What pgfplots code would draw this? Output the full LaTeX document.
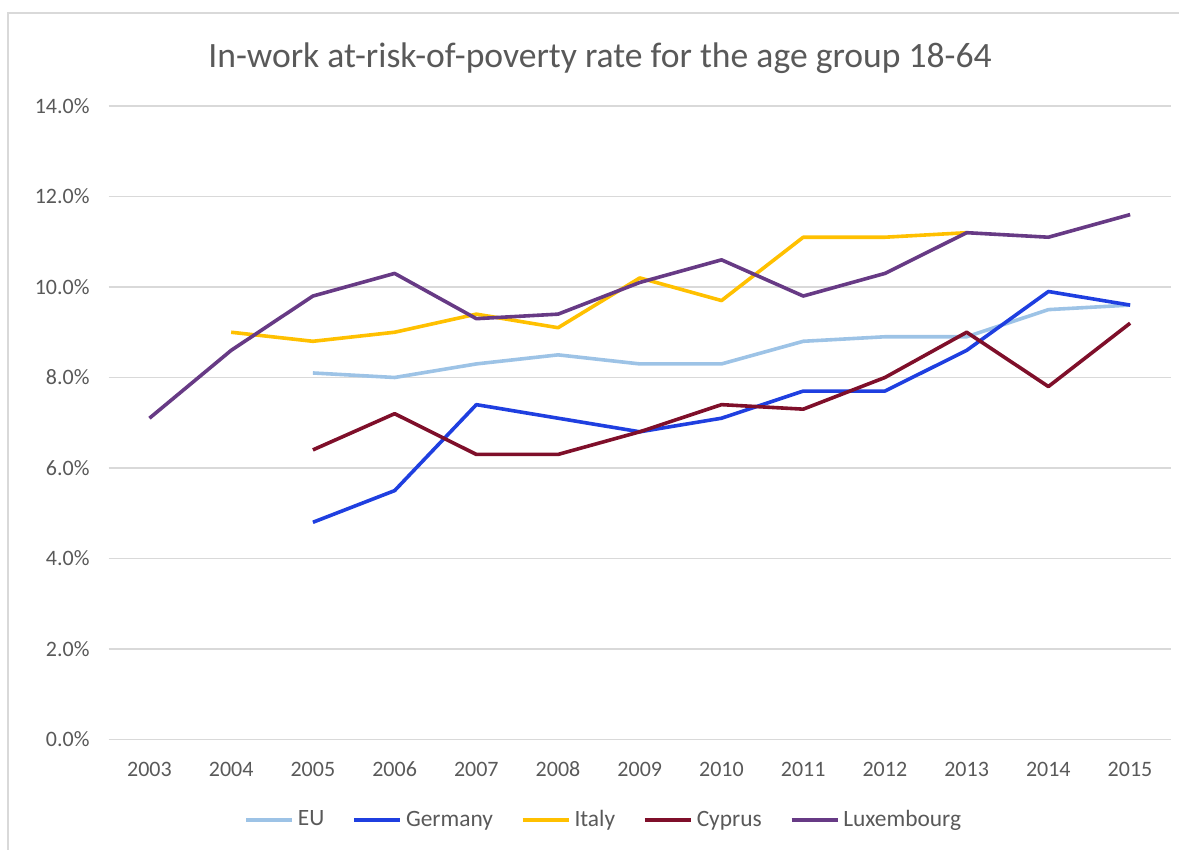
\documentclass[border=0pt]{standalone}
\usepackage{pgfplots}
\pgfplotsset{compat=1.18}
\usepackage{fontspec}
\setmainfont{Carlito}
\definecolor{txt}{HTML}{595959}
\definecolor{gridc}{HTML}{D9D9D9}
\definecolor{cEU}{HTML}{9DC3E6}
\definecolor{cDE}{HTML}{1F3FE0}
\definecolor{cIT}{HTML}{FFC000}
\definecolor{cCY}{HTML}{7F0F2A}
\definecolor{cLU}{HTML}{673A85}
\begin{document}
\begin{tikzpicture}[x=1pt,y=1pt]
\path[use as bounding box] (0,0) rectangle (589.5,425);
\draw[gridc,line width=0.8pt] (4,0) -- (4,418.5) -- (589.5,418.5);
\node[text=txt,font=\fontsize{17.8}{21}\selectfont] at (300,396) {In-work at-risk-of-poverty rate for the age group 18-64};
\begin{axis}[
  at={(54.3pt,55.25pt)}, anchor=south west,
  scale only axis, width=531.2pt, height=316.75pt,
  xmin=2002.5, xmax=2015.5, ymin=0, ymax=14,
  axis line style={draw=none},
  tick style={draw=none},
  /pgf/number format/assume math mode=true,
  xtick={2003,...,2015},
  xticklabel style={/pgf/number format/1000 sep={}, text=txt, font=\fontsize{11}{13}\selectfont, text height=8pt, text depth=1pt, yshift=-7pt},
  ytick={0,2,...,14},
  yticklabels={0.0\%,2.0\%,4.0\%,6.0\%,8.0\%,10.0\%,12.0\%,14.0\%},
  yticklabel style={text=txt, font=\fontsize{11}{13}\selectfont, xshift=-6pt},
  ymajorgrids=true, xmajorgrids=false,
  major grid style={draw=gridc, line width=0.8pt},
  legend columns=5,
  legend style={at={(0.467,-0.127)}, anchor=center, draw=none, fill=none,
    font=\fontsize{11.7}{14}\selectfont, text=txt,
    /tikz/every even column/.append style={column sep=12pt}},
  legend image code/.code={\draw[#1,line width=1.8pt] (0pt,0pt) -- (23pt,0pt);},
  every axis plot/.append style={line width=1.8pt, line join=round, mark=none},
]
\addplot[cEU] coordinates {(2005,8.1)(2006,8.0)(2007,8.3)(2008,8.5)(2009,8.3)(2010,8.3)(2011,8.8)(2012,8.9)(2013,8.9)(2014,9.5)(2015,9.6)};
\addlegendentry{EU}
\addplot[cDE] coordinates {(2005,4.8)(2006,5.5)(2007,7.4)(2008,7.1)(2009,6.8)(2010,7.1)(2011,7.7)(2012,7.7)(2013,8.6)(2014,9.9)(2015,9.6)};
\addlegendentry{Germany}
\addplot[cIT] coordinates {(2004,9.0)(2005,8.8)(2006,9.0)(2007,9.4)(2008,9.1)(2009,10.2)(2010,9.7)(2011,11.1)(2012,11.1)(2013,11.2)};
\addlegendentry{Italy}
\addplot[cCY] coordinates {(2005,6.4)(2006,7.2)(2007,6.3)(2008,6.3)(2009,6.8)(2010,7.4)(2011,7.3)(2012,8.0)(2013,9.0)(2014,7.8)(2015,9.2)};
\addlegendentry{Cyprus}
\addplot[cLU] coordinates {(2003,7.1)(2004,8.6)(2005,9.8)(2006,10.3)(2007,9.3)(2008,9.4)(2009,10.1)(2010,10.6)(2011,9.8)(2012,10.3)(2013,11.2)(2014,11.1)(2015,11.6)};
\addlegendentry{Luxembourg}
\end{axis}
\end{tikzpicture}
\end{document}
